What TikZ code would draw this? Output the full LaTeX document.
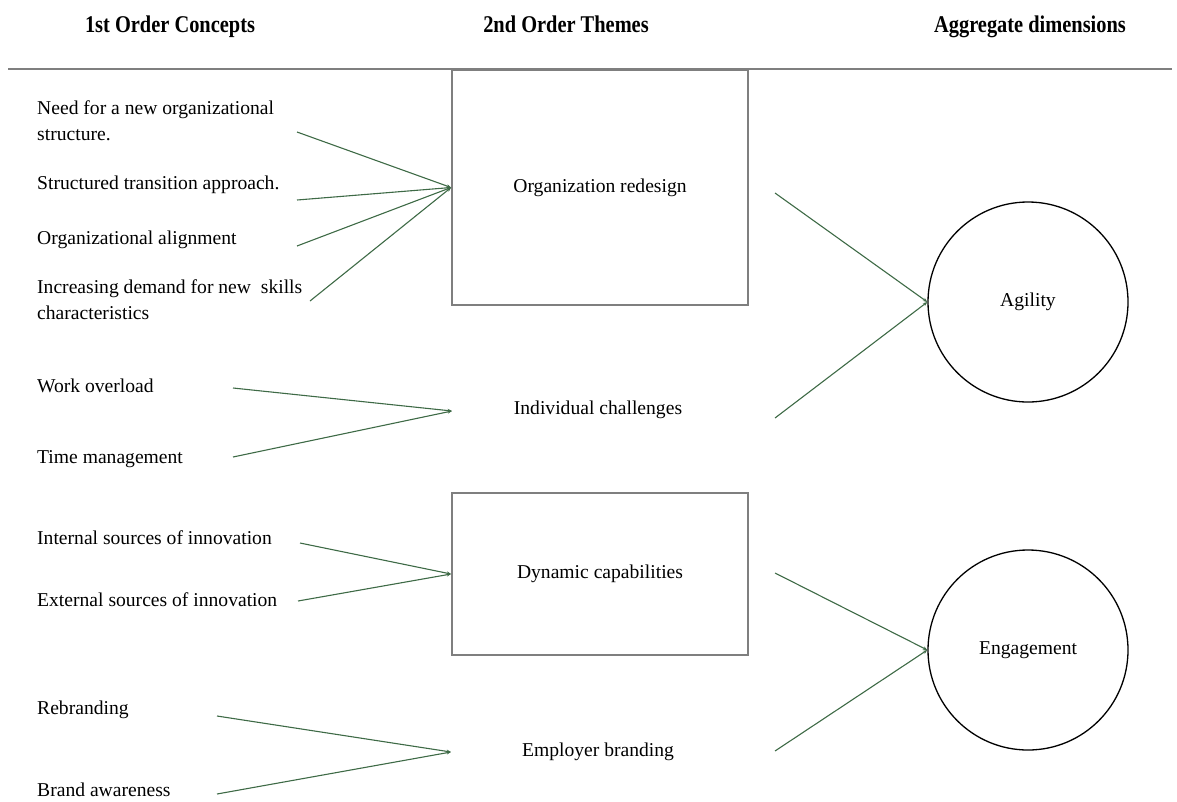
\documentclass[tikz,border=0pt]{standalone}
\usepackage{fontspec}
\setmainfont{Liberation Serif}
\usetikzlibrary{arrows.meta}
\definecolor{linkgreen}{HTML}{3E6A46}
\definecolor{framegray}{HTML}{7F7F7F}
\newcommand{\bodysize}{\fontsize{19.6}{25.5}\selectfont}
\newcommand{\headtext}[1]{\scalebox{0.85}[1]{\fontsize{24}{28}\selectfont\bfseries #1}}

\begin{document}
\begin{tikzpicture}[x=1pt,y=-1pt,
  concept/.style={anchor=base west, inner sep=0pt, font=\bodysize, align=left},
  heading/.style={anchor=base, inner sep=0pt},
  themebox/.style={draw=framegray, line width=1.8pt, minimum width=296pt, inner sep=0pt, font=\bodysize},
  themetext/.style={inner sep=0pt, font=\bodysize},
  dimcircle/.style={circle, draw=black, line width=1.3pt, minimum size=200pt, inner sep=0pt, font=\bodysize},
  link/.style={draw=linkgreen, line width=1.1pt, -{Stealth[length=4.5pt,width=3.5pt]}}
]
\useasboundingbox (0,0) rectangle (1177,801);

% column headings and rule
\node[heading] (h1) at (170,32) {\headtext{1st Order Concepts}};
\node[heading] (h2) at (566,32) {\headtext{2nd Order Themes}};
\node[heading] (h3) at (1030,32) {\headtext{Aggregate dimensions}};
\draw[framegray, line width=1.8pt] (8,69) -- (1172,69);

% first order concepts (two-line entries are placed by their last baseline)
\node[concept] (c1) at (37,140) {Need for a new organizational\\structure.};
\node[concept] (c2) at (37,189) {Structured transition approach.};
\node[concept] (c3) at (37,244) {Organizational alignment};
\node[concept] (c4) at (37,319) {Increasing demand for new\ \ skills\\characteristics};
\node[concept] (c5) at (37,392) {Work overload};
\node[concept] (c6) at (37,463) {Time management};
\node[concept] (c7) at (37,544) {Internal sources of innovation};
\node[concept] (c8) at (37,606) {External sources of innovation};
\node[concept] (c9) at (37,714) {Rebranding};
\node[concept] (c10) at (37,796) {Brand awareness};

% second order themes
\node[themebox, minimum height=235pt] (t1) at (600,187.5) {Organization redesign};
\node[themetext] (t2) at (598,410) {Individual challenges};
\node[themebox, minimum height=162pt] (t3) at (600,574) {Dynamic capabilities};
\node[themetext] (t4) at (598,752) {Employer branding};

% aggregate dimensions
\node[dimcircle] (d1) at (1028,302) {Agility};
\node[dimcircle] (d2) at (1028,650) {Engagement};

% connector end points
\coordinate (s1) at (297,132);
\coordinate (s2) at (297,200);
\coordinate (s3) at (297,246);
\coordinate (s4) at (310,301);
\coordinate (s5) at (233,388);
\coordinate (s6) at (233,457);
\coordinate (s7) at (300,543);
\coordinate (s8) at (298,601);
\coordinate (s9) at (217,716);
\coordinate (s10) at (217,794);
\coordinate (t2in) at (452,411);
\coordinate (t4in) at (451,752);
\coordinate (r1) at (775,193);
\coordinate (r2) at (775,418);
\coordinate (r3) at (775,573);
\coordinate (r4) at (775,751);

% concepts to themes
\foreach \s in {s1,s2,s3,s4} \draw[link] (\s) -- (t1.west);
\foreach \s in {s5,s6} \draw[link] (\s) -- (t2in);
\foreach \s in {s7,s8} \draw[link] (\s) -- (t3.west);
\foreach \s in {s9,s10} \draw[link] (\s) -- (t4in);

% themes to dimensions
\foreach \s in {r1,r2} \draw[link] (\s) -- (d1.west);
\foreach \s in {r3,r4} \draw[link] (\s) -- (d2.west);
\end{tikzpicture}
\end{document}
